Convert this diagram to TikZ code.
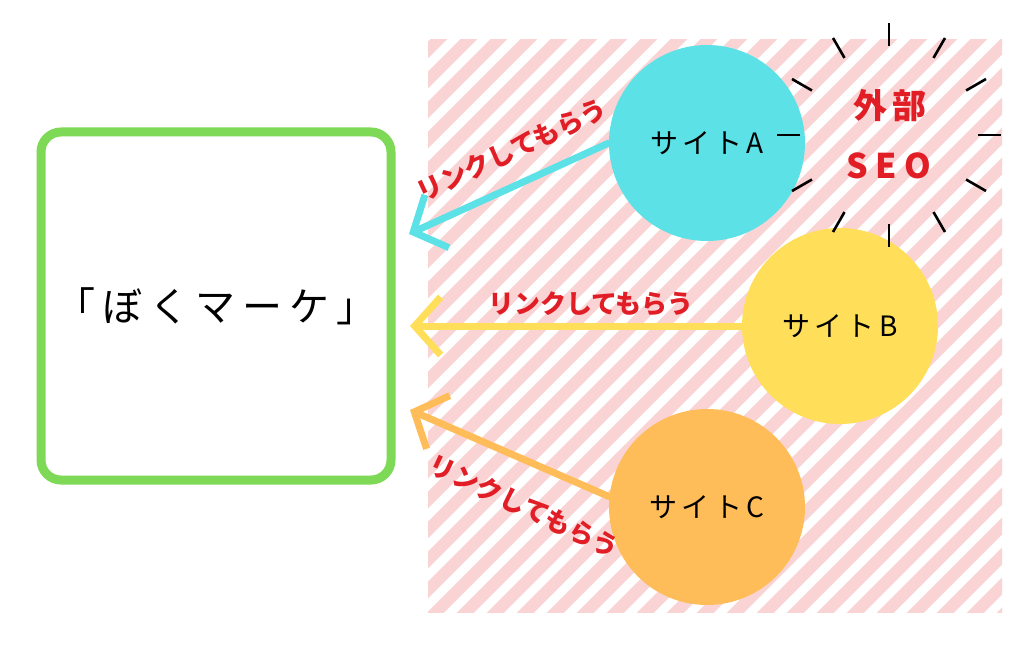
\documentclass[tikz,border=0pt]{standalone}
\usepackage{fontspec}
\newfontfamily\jp{Noto Sans CJK JP}
\usetikzlibrary{arrows.meta,calc}
\definecolor{stripe}{RGB}{250,212,212}
\definecolor{boxgreen}{RGB}{126,217,87}
\definecolor{cyanc}{RGB}{92,225,230}
\definecolor{yellowc}{RGB}{255,222,89}
\definecolor{orangec}{RGB}{255,189,89}
\definecolor{labelred}{RGB}{225,30,38}
\tikzset{
  x=1pt, y=-1pt,
  site/.style={circle, minimum size=196pt, inner sep=0pt, font=\jp\fontsize{28}{30}\selectfont\addfontfeatures{LetterSpace=15}},
  linkarrow/.style={line width=7pt, line cap=round, -{Straight Barb[length=26pt,width=58pt]}},
  linklabel/.style={font=\jp\bfseries\fontsize{26}{30}\selectfont, text=labelred, inner sep=0pt},
  seotext/.style={font=\jp\bfseries\fontsize{34}{38}\selectfont, text=labelred, inner sep=0pt},
  sunray/.style={line width=2.6pt, black},
}
\begin{document}
\begin{tikzpicture}
\useasboundingbox (0,0) rectangle (1024,647);
\fill[white] (0,0) rectangle (1024,647);
% hatched area
\begin{scope}
  \clip (428,40) rectangle (1002,612);
  \foreach \k in {-20,...,20}
    \draw[stripe, line width=12pt] (428+30*\k,620) -- (428+30*\k+590,30);
\end{scope}
% main box
\node[draw=boxgreen, line width=9pt, rounded corners=20pt, minimum width=350pt, minimum height=348pt,
      font=\jp\fontsize{40}{44}\selectfont\addfontfeatures{LetterSpace=17}] (box) at (216,306) {「ぼくマーケ」};
% sites
\node[site, fill=cyanc] (A) at (707,143) {サイトA};
\node[site, fill=yellowc] (B) at (840,326) {サイトB};
\node[site, fill=orangec] (C) at (707,507) {サイトC};
% arrow end points
\coordinate (tA) at (409,234);
\coordinate (tB) at (410,326);
\coordinate (tC) at (410,410);
\draw[linkarrow, cyanc] (A.west) -- (tA);
\draw[linkarrow, yellowc] (B.west) -- (tB);
\draw[linkarrow, orangec] (C.174) -- (tC);
% labels
\node[linklabel, rotate=25] (lA) at (512,150) {リンクしてもらう};
\node[linklabel] (lB) at (591,304) {リンクしてもらう};
\node[linklabel, rotate=-25] (lC) at (524,506) {リンクしてもらう};
% external SEO burst
\coordinate (sun) at (889,135);
\foreach \a in {0,30,...,330}
  \draw[sunray] ($(sun)+(\a:89)$) -- ($(sun)+(\a:112)$);
\node[seotext] (gaibu) at (890,106) {\addfontfeatures{LetterSpace=12}外部};
\node[seotext] (seo) at (889,166) {\addfontfeatures{LetterSpace=22}SEO};
\end{tikzpicture}
\end{document}
